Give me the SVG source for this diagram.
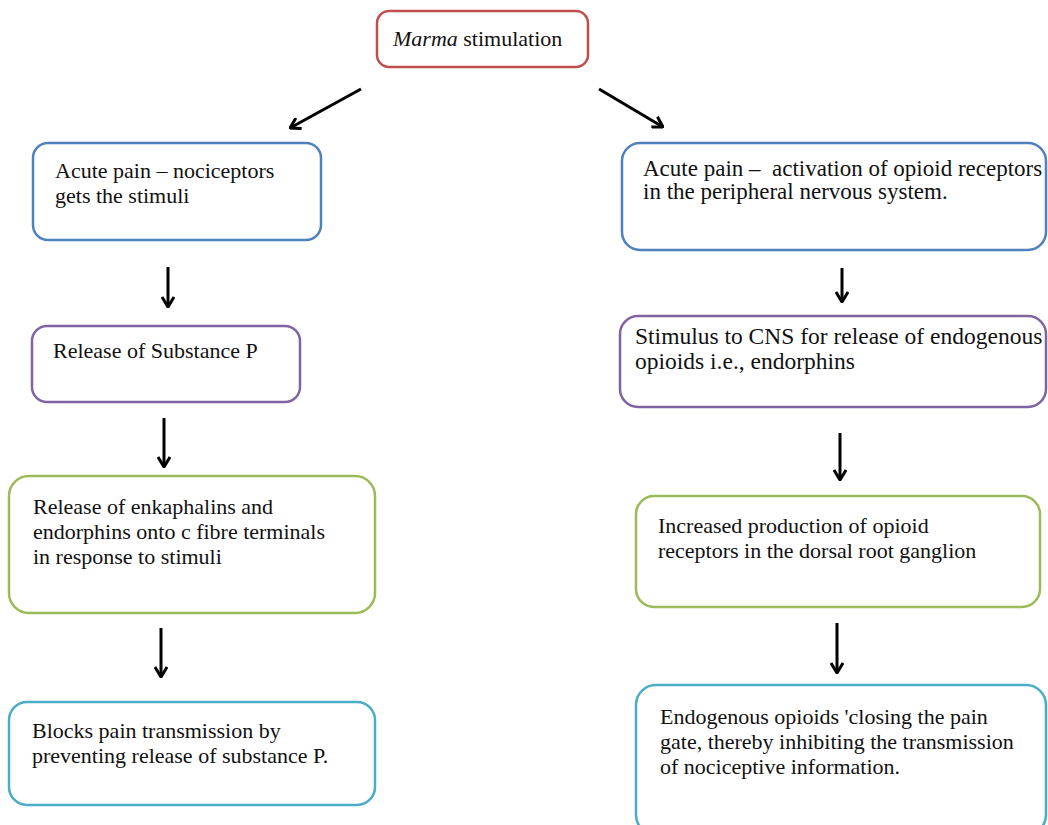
<svg xmlns="http://www.w3.org/2000/svg" width="1048" height="825" viewBox="0 0 1048 825">
<style>
.box{fill:#fff;stroke-width:2.5}
.red{stroke:#c0504d}.blue{stroke:#4f81bd}.purple{stroke:#8064a2}.green{stroke:#9bbb59}.cyan{stroke:#4bacc6}
.t{font-family:'Liberation Serif','DejaVu Serif',serif;font-size:22px;fill:#111}
.big{font-size:23px}.big2{font-size:23.5px}
.conn line{stroke:#000;stroke-width:3}
</style>
<defs>
<marker id="ah" viewBox="0 0 12 14" refX="11" refY="7" markerWidth="12" markerHeight="14" markerUnits="userSpaceOnUse" orient="auto">
<path d="M1,1 L11,7 L1,13" fill="none" stroke="#000" stroke-width="3" stroke-linejoin="miter"/>
</marker>
</defs>
<rect width="1048" height="825" fill="#fff"/>
<g class="t" font-family="Liberation Serif, serif">
<g id="n0"><rect class="box red" x="377" y="11" width="211" height="56" rx="12"/><text x="393" y="46"><tspan font-style="italic">Marma</tspan> stimulation</text></g>
<g id="n1"><rect class="box blue" x="33" y="143" width="288" height="97" rx="15"/><text x="55" y="178">Acute pain – nociceptors</text><text x="55" y="203">gets the stimuli</text></g>
<g id="n2"><rect class="box purple" x="32" y="326" width="268" height="76" rx="15"/><text x="53" y="358">Release of Substance P</text></g>
<g id="n3"><rect class="box green" x="9" y="476" width="366" height="137" rx="20"/><text x="33" y="514">Release of enkaphalins and</text><text x="33" y="539">endorphins onto c fibre terminals</text><text x="33" y="564">in response to stimuli</text></g>
<g id="n4"><rect class="box cyan" x="9" y="702" width="366" height="103" rx="18"/><text x="32" y="738">Blocks pain transmission by</text><text x="32" y="763">preventing release of substance P.</text></g>
<g id="n5" class="big"><rect class="box blue" x="622" y="143" width="424" height="107" rx="18"/><text x="643" y="176" xml:space="preserve">Acute pain –  activation of opioid receptors</text><text x="643" y="199">in the peripheral nervous system.</text></g>
<g id="n6" class="big2"><rect class="box purple" x="620" y="316" width="426" height="91" rx="18"/><text x="635" y="344">Stimulus to CNS for release of endogenous</text><text x="635" y="369">opioids i.e., endorphins</text></g>
<g id="n7"><rect class="box green" x="636" y="496" width="404" height="111" rx="18"/><text x="658" y="533">Increased production of opioid</text><text x="658" y="558">receptors in the dorsal root ganglion</text></g>
<g id="n8"><rect class="box cyan" x="636" y="685" width="410" height="150" rx="20"/><text x="660" y="724">Endogenous opioids 'closing the pain</text><text x="660" y="749">gate, thereby inhibiting the transmission</text><text x="660" y="774">of nociceptive information.</text></g>
</g>
<g class="conn" id="connectors">
<line x1="361" y1="89" x2="290" y2="128" marker-end="url(#ah)"/>
<line x1="599" y1="89" x2="663" y2="127" marker-end="url(#ah)"/>
<line x1="168" y1="267" x2="168" y2="307" marker-end="url(#ah)"/>
<line x1="164" y1="418" x2="164" y2="467" marker-end="url(#ah)"/>
<line x1="161" y1="628" x2="161" y2="677" marker-end="url(#ah)"/>
<line x1="842" y1="268" x2="842" y2="302" marker-end="url(#ah)"/>
<line x1="840" y1="433" x2="840" y2="480" marker-end="url(#ah)"/>
<line x1="837" y1="623" x2="837" y2="673" marker-end="url(#ah)"/>
</g>
</svg>
